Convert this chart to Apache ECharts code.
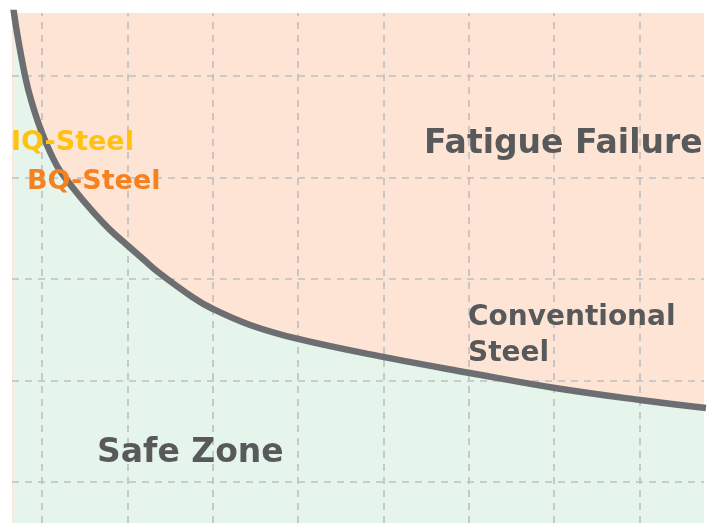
<!DOCTYPE html>
<html>
<head>
<meta charset="utf-8">
<script src="https://cdn.jsdelivr.net/npm/echarts@6/dist/echarts.min.js"></script>
<style>html,body{margin:0;padding:0;background:#fff;}#c{width:718px;height:523px;}</style>
</head>
<body>
<div id="c"></div>
<script>
// Grid line positions (axis units)
const xTicks = [0, 1, 2, 3, 4, 5, 6, 7];
const yTicks = [0, 1, 2, 3, 4];
// Conventional steel fatigue curve
const curveX = [-0.34, -0.293, -0.199, -0.129, 0.0, 0.176, 0.363, 0.598, 0.797, 0.996, 1.184, 1.359, 1.77, 2.004, 2.438, 3.0, 3.996, 5.016, 6.012, 7.008, 7.781];
const curveY = [4.69, 4.424, 4.0, 3.764, 3.438, 3.113, 2.897, 2.66, 2.483, 2.335, 2.197, 2.069, 1.818, 1.704, 1.547, 1.409, 1.232, 1.074, 0.926, 0.808, 0.729];
// Labels
const labels = {
  failure: 'Fatigue Failure',
  safe: 'Safe Zone',
  conventional: 'Conventional\nSteel',
  iq: 'IQ-Steel',
  bq: 'BQ-Steel'
};

const curve = curveX.map((x, i) => [x, curveY[i]]);
const FONT = '"DejaVu Sans", sans-serif';

const chart = echarts.init(document.getElementById('c'), null, {renderer: 'canvas'});
chart.setOption({
  animation: false,
  backgroundColor: '#ffffff',
  grid: {left: 12, right: 14, top: 13, bottom: 0, show: true, backgroundColor: '#fde4d4', borderWidth: 0},
  xAxis: {type: 'value', min: -0.352, max: 7.758, show: false, splitLine: {show: false}},
  yAxis: {type: 'value', min: -0.404, max: 4.62, show: false, splitLine: {show: false}},
  series: [
    {
      type: 'line', data: curve, smooth: 0.4, symbol: 'none', z: 1,
      lineStyle: {width: 0, opacity: 0},
      areaStyle: {color: '#e6f5ec', opacity: 1, origin: 'start'},
      markLine: {
        silent: true, symbol: 'none', z: 5,
        label: {show: false},
        lineStyle: {color: '#bfbfbf', type: [7, 6], width: 1.6},
        data: xTicks.map(v => ({xAxis: v})).concat(yTicks.map(v => ({yAxis: v})))
      }
    },
    {
      type: 'line', data: curve, smooth: 0.4, symbol: 'none', z: 10,
      lineStyle: {width: 6.5, color: '#6d6e71'}
    }
  ],
  graphic: [
    {type: 'text', x: 424, y: 144, z: 20, style: {text: labels.failure, font: 'bold 33px ' + FONT, fill: '#58595b', align: 'left', verticalAlign: 'middle'}},
    {type: 'text', x: 97, y: 453, z: 20, style: {text: labels.safe, font: 'bold 33px ' + FONT, fill: '#58595b', align: 'left', verticalAlign: 'middle'}},
    {type: 'text', x: 468, y: 336, z: 20, style: {text: labels.conventional, font: 'bold 28px ' + FONT, lineHeight: 36, fill: '#58595b', align: 'left', verticalAlign: 'middle'}},
    {type: 'text', x: 11, y: 143, z: 20, style: {text: labels.iq, font: 'bold 27px ' + FONT, fill: '#ffc20e', align: 'left', verticalAlign: 'middle'}},
    {type: 'text', x: 27, y: 182, z: 20, style: {text: labels.bq, font: 'bold 27px ' + FONT, fill: '#f5821f', align: 'left', verticalAlign: 'middle'}}
  ]
});
</script>
</body>
</html>
